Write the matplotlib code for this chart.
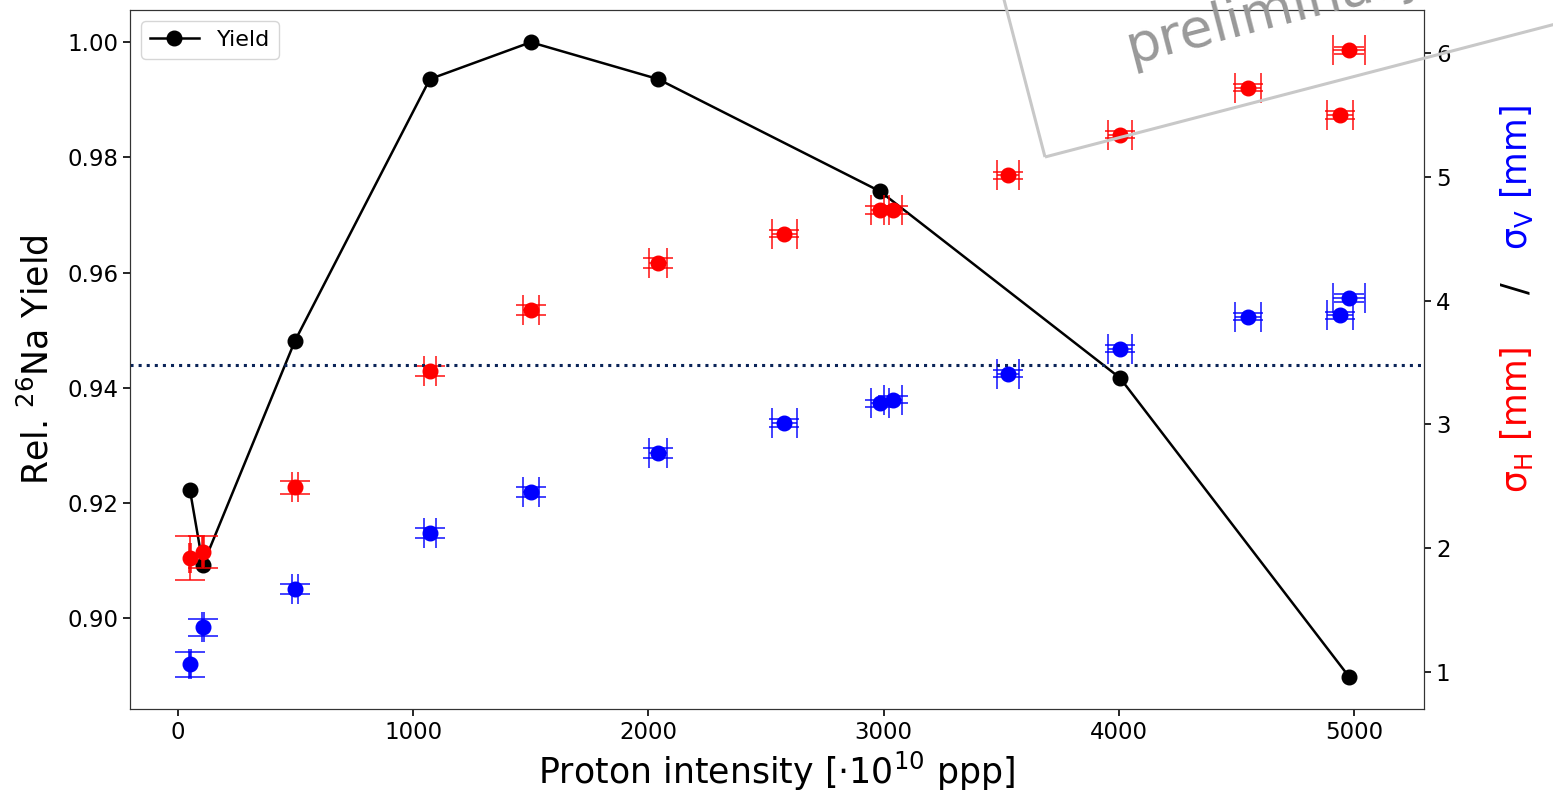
import matplotlib.pyplot as plt
from matplotlib.patches import Rectangle

# yield vs proton intensity
yield_x = [51, 106, 497, 1071, 1500, 2041, 2985, 4005, 4979]
yield_rel = [0.9222, 0.9092, 0.9481, 0.9936, 1.000, 0.9936, 0.9741, 0.9417, 0.8898]

# beam widths
sigma_x = [51, 106, 497, 1071, 1500, 2041, 2577, 2985, 3040, 3529, 4005, 4549, 4941, 4979]
sigma_xerr = [3, 5, 14, 25, 35, 40, 53, 40, 40, 45, 50, 55, 55, 68]
sigma_h = [1.92, 1.97, 2.49, 3.43, 3.92, 4.30, 4.54, 4.73, 4.73, 5.01, 5.34, 5.72, 5.50, 6.02]
sigma_h_err = [0.18, 0.13, 0.05, 0.04, 0.04, 0.04, 0.03, 0.03, 0.03, 0.03, 0.03, 0.03, 0.03, 0.03]
sigma_v = [1.06, 1.36, 1.67, 2.12, 2.45, 2.77, 3.01, 3.17, 3.20, 3.41, 3.61, 3.87, 3.88, 4.02]
sigma_v_err = [0.10, 0.07, 0.04, 0.04, 0.04, 0.04, 0.03, 0.03, 0.03, 0.03, 0.03, 0.03, 0.03, 0.03]

reference_level = 3.48

fig = plt.figure(figsize=(15.53, 7.92), dpi=100)
ax = fig.add_axes([0.0837, 0.1048, 0.8333, 0.8826])
ax2 = ax.twinx()

ax.plot(yield_x, yield_rel, "-o", color="black", lw=1.8, ms=10.5, label="Yield")

eb = dict(fmt="o", ms=10.5, capsize=11, elinewidth=1.3, capthick=1.3)
ax2.errorbar(sigma_x, sigma_h, yerr=sigma_h_err, xerr=sigma_xerr, color="red", ecolor=(1, 0, 0, 0.8), **eb)
ax2.errorbar(sigma_x, sigma_v, yerr=sigma_v_err, xerr=sigma_xerr, color="blue", ecolor=(0, 0, 1, 0.8), **eb)
ax2.axhline(reference_level, color="#0a2458", lw=2.2, ls=":")

ax.set_xlim(-204, 5298)
ax.set_ylim(0.8842, 1.0056)
ax2.set_ylim(0.70, 6.347)
ax.set_xticks([0, 1000, 2000, 3000, 4000, 5000])
ax.set_yticks([0.90, 0.92, 0.94, 0.96, 0.98, 1.00])
ax.set_yticklabels([f"{v:.2f}" for v in ax.get_yticks()])
ax2.set_yticks([1, 2, 3, 4, 5, 6])
for a in (ax, ax2):
    a.tick_params(labelsize=16.5, length=5, width=1.2)
    for s in a.spines.values():
        s.set_color("#333333")

ax.set_xlabel(r"Proton intensity [$\cdot$10$^{10}$ ppp]", fontsize=25, labelpad=4)
ax.set_ylabel(r"Rel. $^{26}$Na Yield", fontsize=25, labelpad=8)
ax.legend(loc="upper left", fontsize=16, handlelength=2.2)

# right axis label in three colours
fig.text(0.9768, 1 - 420 / 792, r"σ$_\mathrm{H}$ [mm]", rotation=90, color="red",
         fontsize=25, ha="center", va="center")
fig.text(0.9768, 1 - 288 / 792, "/", rotation=90, color="black",
         fontsize=25, ha="center", va="center")
fig.text(0.9768, 1 - 178 / 792, r"σ$_\mathrm{V}$ [mm]", rotation=90, color="blue",
         fontsize=25, ha="center", va="center")

# "preliminary" stamp
fig.patches.append(Rectangle((10.45, 6.35), 8, 3, angle=14.6, fill=False, ec="#c8c8c8",
                             lw=2.2, transform=fig.dpi_scale_trans, figure=fig))
fig.text(11.3, 7.29, "preliminary", transform=fig.dpi_scale_trans, rotation=14.6,
         rotation_mode="anchor", ha="left", va="baseline", fontsize=39, color="#999999")

fig.savefig("out.png", dpi=100)
